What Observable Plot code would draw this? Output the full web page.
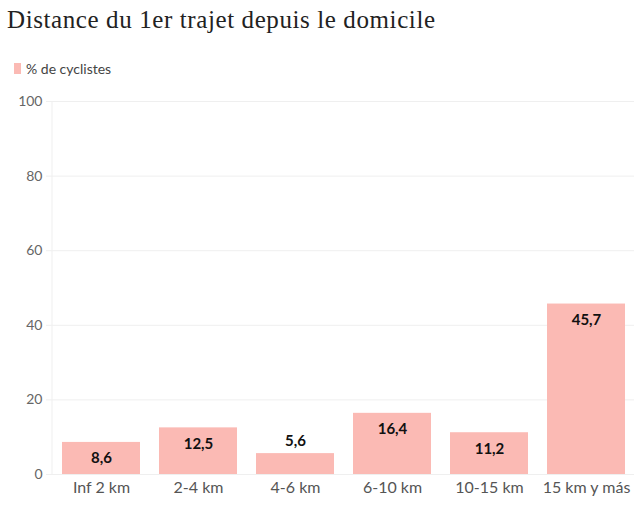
<!DOCTYPE html>
<html><head><meta charset="utf-8">
<script src="https://cdn.jsdelivr.net/npm/d3@7"></script>
<script src="https://cdn.jsdelivr.net/npm/@observablehq/plot@0.6"></script>
<style>
body{margin:0;background:#fff;}
#title{font-family:"Liberation Serif",serif;font-size:25px;letter-spacing:0.6px;color:#222;position:absolute;left:7px;top:6px;margin:0;}
#legend{font-family:Lato,sans-serif;font-size:14px;color:#444;position:absolute;left:14px;top:60px;display:flex;align-items:center;}
#legend span.sw{display:inline-block;width:7px;height:11px;background:#fbbab4;margin-right:5px;}
#chart{position:absolute;left:0;top:90px;}
</style></head>
<body>
<div id="title">Distance du 1er trajet depuis le domicile</div>
<div id="legend"><span class="sw"></span>% de cyclistes</div>
<div id="chart"></div>
<script>
const categories = ["Inf 2 km","2-4 km","4-6 km","6-10 km","10-15 km","15 km y más"];
const values = [8.6,12.5,5.6,16.4,11.2,45.7];
const labels = ["8,6","12,5","5,6","16,4","11,2","45,7"];
const yTicks = [0,20,40,60,80,100];
const data = categories.map((c,i)=>({cat:c, v:values[i], label:labels[i]}));
const inside = data.filter(d=>d.v>=8);
const outside = data.filter(d=>d.v<8);
const plot = Plot.plot({
  width:640, height:415,
  marginTop:11, marginBottom:31, marginLeft:52, marginRight:6,
  style:{fontFamily:"Lato, sans-serif", fontSize:"14px", color:"#555", background:"#fff"},
  x:{domain:categories, paddingInner:0.2, paddingOuter:0.1, label:null},
  y:{domain:[0,100], label:null},
  marks:[
    Plot.gridY(yTicks,{stroke:"#efefef", strokeOpacity:1}),
    Plot.axisY({ticks:yTicks, tickSize:6, tickPadding:4, stroke:"#efefef", fill:"#666", fontSize:14, label:null}),
    Plot.axisX({tickSize:0, tickPadding:7, fill:"#555", fontSize:16, label:null}),
    Plot.barY(data,{x:"cat", y:"v", fill:"#fbbab4"}),
    Plot.text(inside,{x:"cat", y:"v", text:"label", dy:16, fontWeight:"bold", fontSize:15, fill:"#111"}),
    Plot.text(outside,{x:"cat", y:"v", text:"label", dy:-12, fontWeight:"bold", fontSize:15, fill:"#111"})
  ]
});
// left edge line from the plot's own scales
const xs = plot.scale("x"), ys = plot.scale("y");
const x0 = Math.min(...xs.range);
d3.select(plot).insert("line", "g")
  .attr("x1", x0).attr("x2", x0)
  .attr("y1", ys.apply(100)).attr("y2", ys.apply(0))
  .attr("stroke", "#efefef");
document.getElementById("chart").append(plot);
</script>
</body></html>
